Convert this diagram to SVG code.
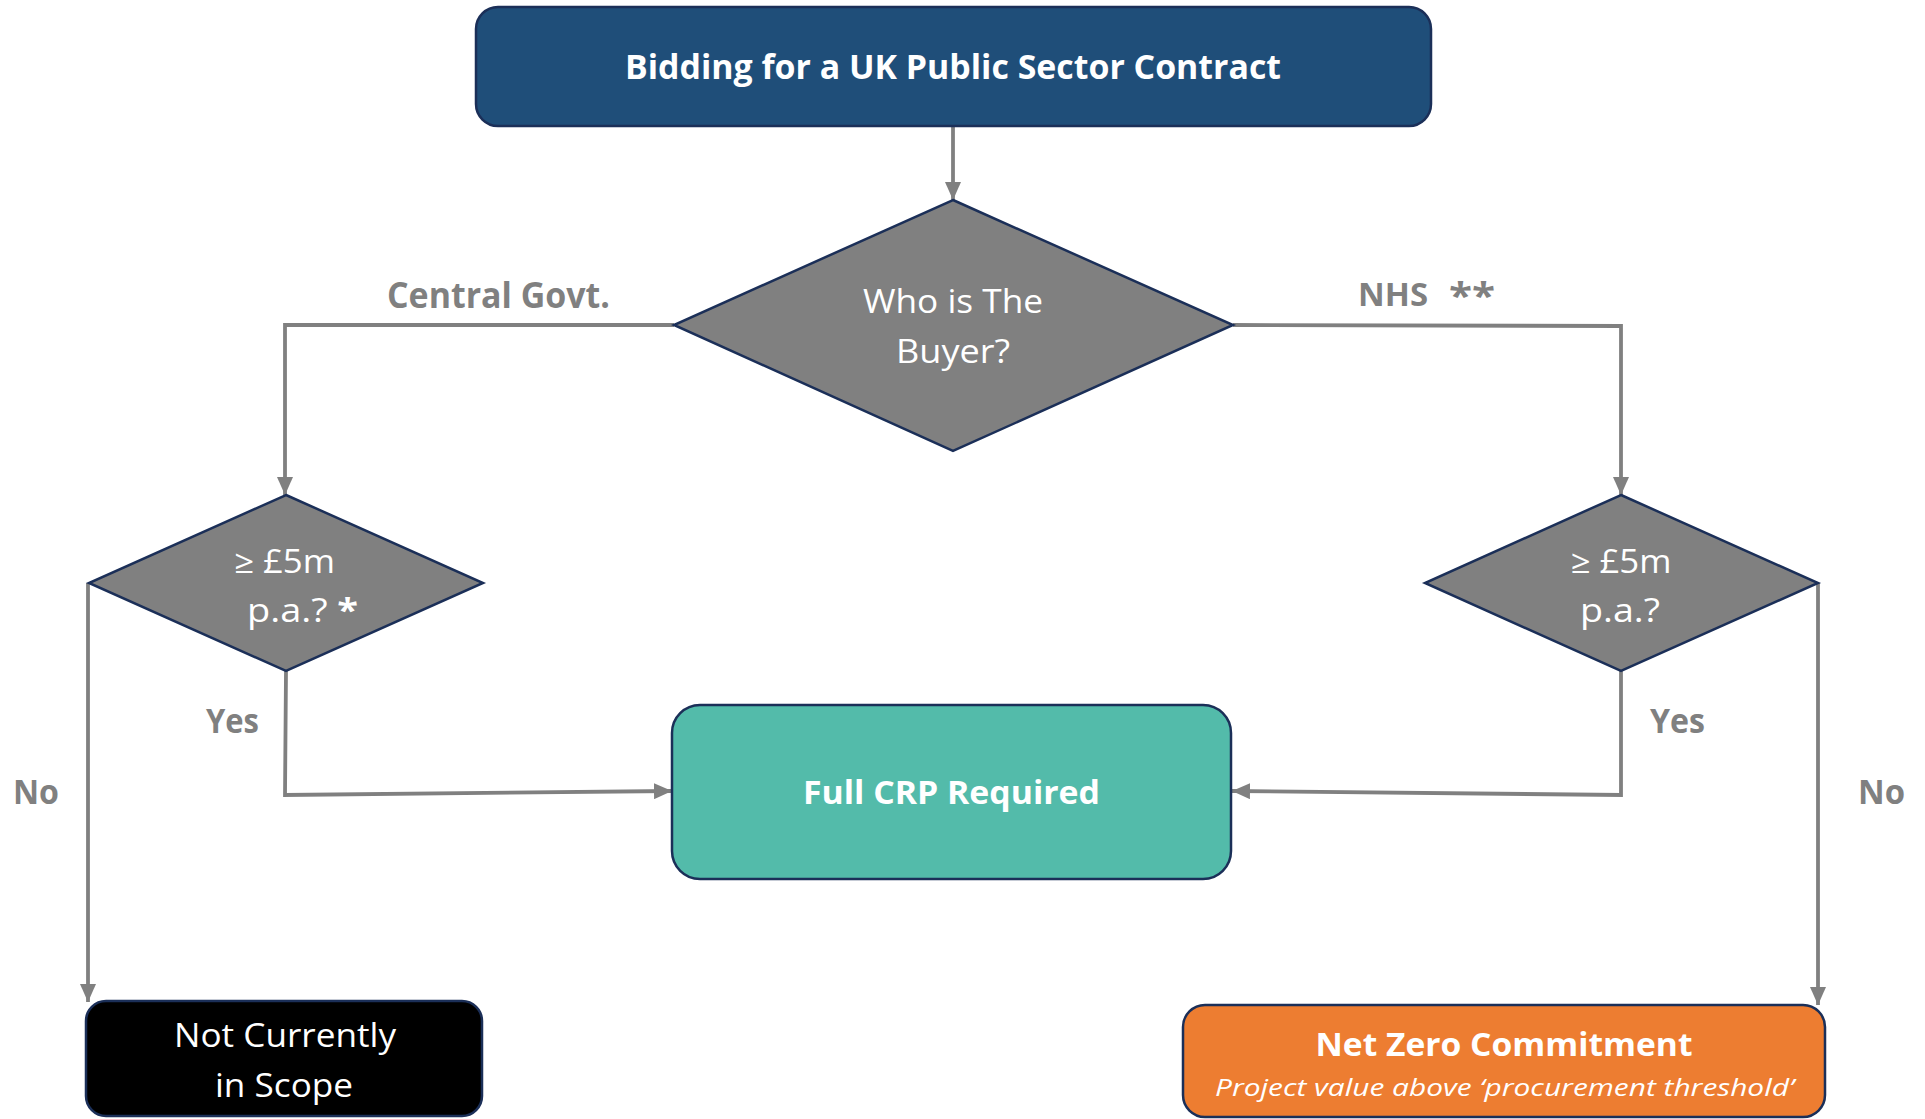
<svg xmlns="http://www.w3.org/2000/svg" width="1925" height="1119" viewBox="0 0 1925 1119">
<defs>
<style>
.t{font-family:"Open Sans","Noto Sans","Liberation Sans",sans-serif;fill:#fff;text-anchor:middle}
.b{font-weight:bold}
.lbl{font-family:"Open Sans","Noto Sans","Liberation Sans",sans-serif;fill:#808080;font-weight:bold}
.dia{fill:#808080;stroke:#1b2f58;stroke-width:2.5}
.box{stroke:#1b2f58;stroke-width:2.5}
.con{fill:none;stroke:#808080;stroke-width:3.8}
</style>
<marker id="ah" markerWidth="18" markerHeight="16" refX="18" refY="8" orient="auto" markerUnits="userSpaceOnUse">
<path d="M0,0 L18,8 L0,16 Z" fill="#808080"/>
</marker>
</defs>
<rect width="1925" height="1119" fill="#fff"/>
<g id="connectors">
<path class="con" d="M953,127 L953,200" marker-end="url(#ah)"/>
<path class="con" d="M674,325 L285,325 L285,495" marker-end="url(#ah)"/>
<path class="con" d="M1233,325 L1621,326 L1621,495" marker-end="url(#ah)"/>
<path class="con" d="M88,583 L88,1002" marker-end="url(#ah)"/>
<path class="con" d="M1818,583 L1818,1005" marker-end="url(#ah)"/>
<path class="con" d="M286,671 L285,795 L672,791" marker-end="url(#ah)"/>
<path class="con" d="M1621,671 L1621,795 L1232,791" marker-end="url(#ah)"/>
</g>
<g id="labels">
<text class="lbl" x="387" y="308" font-size="36" textLength="223" lengthAdjust="spacingAndGlyphs">Central Govt.</text>
<text class="lbl" x="1358" y="306" font-size="33" textLength="70" lengthAdjust="spacingAndGlyphs">NHS</text>
<text class="lbl" x="1449" y="308" font-size="36" textLength="46" lengthAdjust="spacingAndGlyphs">**</text>
<text class="lbl" x="206" y="733" font-size="34" textLength="53" lengthAdjust="spacingAndGlyphs">Yes</text>
<text class="lbl" x="1650" y="733" font-size="34" textLength="55" lengthAdjust="spacingAndGlyphs">Yes</text>
<text class="lbl" x="13" y="804" font-size="34" textLength="46" lengthAdjust="spacingAndGlyphs">No</text>
<text class="lbl" x="1858" y="804" font-size="34" textLength="47" lengthAdjust="spacingAndGlyphs">No</text>
</g>
<g id="start">
<rect class="box" x="476" y="7" width="955" height="119" rx="22" fill="#1f4e79"/>
<text class="t b" x="953" y="79" font-size="34" textLength="656" lengthAdjust="spacingAndGlyphs">Bidding for a UK Public Sector Contract</text>
</g>
<g id="buyer">
<polygon class="dia" points="953,200 1233,325 953,451 674,325"/>
<text class="t" x="953" y="313" font-size="32" textLength="180" lengthAdjust="spacingAndGlyphs">Who is The</text>
<text class="t" x="953" y="363" font-size="32" textLength="114" lengthAdjust="spacingAndGlyphs">Buyer?</text>
</g>
<g id="cg-threshold">
<polygon class="dia" points="286,495 483,583 286,671 89,583"/>
<text class="t" x="284.5" y="573" font-size="32" textLength="101" lengthAdjust="spacingAndGlyphs">≥ £5m</text>
<text class="t" x="302.5" y="622" font-size="32" textLength="111" lengthAdjust="spacingAndGlyphs">p.a.? <tspan font-weight="bold">*</tspan></text>
</g>
<g id="nhs-threshold">
<polygon class="dia" points="1621,495 1818,583 1621,671 1425,583"/>
<text class="t" x="1621" y="573" font-size="32" textLength="101" lengthAdjust="spacingAndGlyphs">≥ £5m</text>
<text class="t" x="1620" y="622" font-size="32" textLength="80" lengthAdjust="spacingAndGlyphs">p.a.?</text>
</g>
<g id="full-crp">
<rect class="box" x="672" y="705" width="559" height="174" rx="28" fill="#53bbaa"/>
<text class="t b" x="951.5" y="804" font-size="33" textLength="297" lengthAdjust="spacingAndGlyphs">Full CRP Required</text>
</g>
<g id="not-in-scope">
<rect class="box" x="86" y="1001" width="396" height="115" rx="20" fill="#000"/>
<text class="t" x="285" y="1047" font-size="33" textLength="222" lengthAdjust="spacingAndGlyphs">Not Currently</text>
<text class="t" x="284" y="1097" font-size="33" textLength="138" lengthAdjust="spacingAndGlyphs">in Scope</text>
</g>
<g id="net-zero">
<rect class="box" x="1183" y="1005" width="642" height="112" rx="22" fill="#ed7d31"/>
<text class="t b" x="1504" y="1056" font-size="33" textLength="377" lengthAdjust="spacingAndGlyphs">Net Zero Commitment</text>
<text class="t" x="1504.5" y="1096" font-size="24" font-style="italic" textLength="579" lengthAdjust="spacingAndGlyphs">Project value above ‘procurement threshold’</text>
</g>
</svg>
